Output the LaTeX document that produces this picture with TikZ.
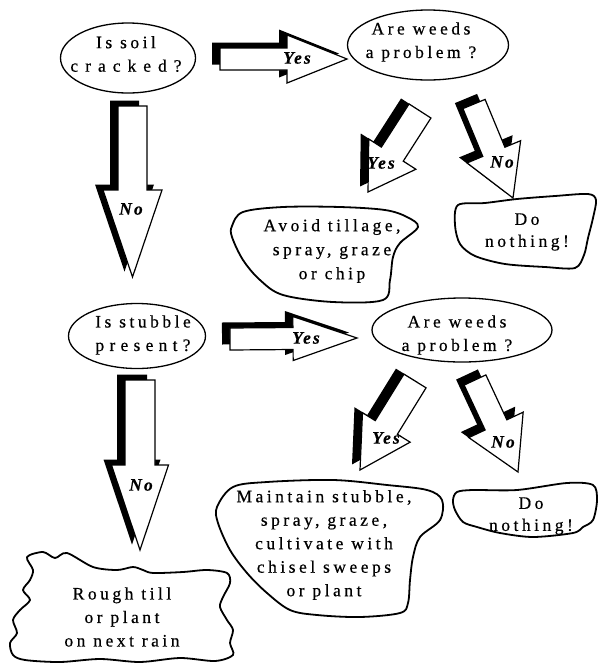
\documentclass[tikz,border=0pt]{standalone}
\usepackage{fontspec}
\setmainfont{Liberation Serif}[LetterSpace=20, FakeBold=0.5]
\newfontfamily\lblfont{Liberation Serif}[LetterSpace=12, FakeBold=0.4]
\usetikzlibrary{shapes.geometric,calc}

% hollow block arrow with a solid black offset shadow
% #1 start, #2 tip, #3 body half width, #4 head half width, #5 head length
\newcommand\blockarrow[5]{%
  \path (#1); \pgfgetlastxy{\bax}{\bay}%
  \path (#2); \pgfgetlastxy{\bbx}{\bby}%
  \pgfmathsetmacro\baang{atan2(\bby-\bay,\bbx-\bax)}%
  \pgfmathsetmacro\balen{veclen(\bbx-\bax,\bby-\bay)}%
  \pgfmathsetmacro\babase{\balen-#5}%
  \begin{scope}[shift={(#1)}, xshift=-8pt, yshift=5.5pt, rotate=\baang]
    \fill[black] (0pt,-#3pt) -- (\babase pt,-#3pt) -- (\babase pt,-#4pt) -- (\balen pt,0pt)
      -- (\babase pt,#4pt) -- (\babase pt,#3pt) -- (0pt,#3pt) -- cycle;
  \end{scope}
  \begin{scope}[shift={(#1)}, rotate=\baang]
    \draw[arrowline] (0pt,-#3pt) -- (\babase pt,-#3pt) -- (\babase pt,-#4pt) -- (\balen pt,0pt)
      -- (\babase pt,#4pt) -- (\babase pt,#3pt) -- (0pt,#3pt) -- cycle;
  \end{scope}}

\tikzset{
  qbox/.style={draw, ellipse, line width=1.3pt, inner sep=0pt},
  txt/.style={align=center, inner sep=0pt, font=\fontsize{17.5}{23.5}\selectfont},
  lbl/.style={inner sep=0pt, font=\lblfont\bfseries\itshape\fontsize{17.5}{17.5}\selectfont},
  cloud/.style={draw, line width=1.8pt, line join=round},
  arrowline/.style={draw=black, fill=white, line width=1.2pt, line join=miter},
}

\begin{document}
\begin{tikzpicture}[x=1pt, y=-1pt]
\useasboundingbox (0,0) rectangle (598,665);

% questions
\node[qbox, minimum width=135pt, minimum height=70pt] (q1) at (128,58) {};
\node[txt] (q1t) at (126,54) {Is soil\\\addfontfeature{LetterSpace=40}cracked?};
\node[qbox, minimum width=161pt, minimum height=70pt] (q2) at (428,45) {};
\node[txt] (q2t) at (421,42) {Are weeds\\a problem ?};
\node[qbox, minimum width=137pt, minimum height=65pt] (q3) at (137,336) {};
\node[txt] (q3t) at (143,335) {Is stubble\\\addfontfeature{LetterSpace=30}present?};
\node[qbox, minimum width=180pt, minimum height=64pt] (q4) at (462,330) {};
\node[txt] (q4t) at (457,335) {Are weeds\\a problem ?};

% answers
\draw[cloud] plot[smooth cycle, tension=0.55] coordinates {(243,212) (283,207) (340,207) (385,210) (407,217) (418,227) (400,243) (393,257) (390,280) (383,300) (333,302) (283,295) (260,280) (243,260) (232,237) (232,226)};
\node[txt, font=\fontsize{17.5}{24}\selectfont] (rA) at (332,251) {Avoid tillage,\\spray, graze\\or chip};

\draw[cloud] plot[smooth cycle, tension=0.5] coordinates {(458,205) (485,203) (517,199) (555,196) (588,194) (596,200) (593,218) (588,238) (584,255) (575,268) (545,267) (505,264) (475,256) (460,244) (455,225)};
\node[txt, font=\fontsize{17.5}{22}\selectfont] (rB) at (527,232) {Do\\nothing!};

\draw[cloud] plot[smooth cycle, tension=0.55] coordinates {(217,507) (233,487) (267,482) (333,480) (387,485) (427,490) (442,500) (440,520) (420,537) (413,557) (410,580) (408,603) (400,613) (360,617) (317,615) (290,610) (267,593) (247,573) (230,550) (218,523)};
\node[txt] (rC) at (324,545) {Maintain stubble,\\spray, graze,\\cultivate with\\chisel sweeps\\or plant};

\draw[cloud] plot[smooth cycle, tension=0.5] coordinates {(457,492) (473,490) (517,490) (567,483) (593,485) (597,500) (593,520) (583,527) (573,533) (533,537) (500,533) (477,527) (463,522) (455,510) (453,500)};
\node[txt, font=\fontsize{17.5}{22}\selectfont] (rE) at (531,516) {Do\\nothing!};

\draw[cloud] plot[smooth cycle, tension=0.5] coordinates {(27,557) (43,552) (55,558) (67,553) (93,567) (117,570) (133,567) (143,570) (153,573) (183,572) (207,570) (227,573) (230,583) (223,597) (220,607) (227,620) (233,630) (230,643) (233,655) (215,661) (180,658) (140,662) (100,659) (60,662) (25,660) (13,655) (10,643) (17,633) (13,620) (20,610) (30,600) (23,590) (30,580) (33,570)};
\node[txt] (rD) at (122,617) {Rough till\\or plant\\on next rain};

% arrow end points
\coordinate (a1s) at (220,59);   \coordinate (a1e) at (347,59);
\coordinate (a2s) at (132.5,106); \coordinate (a2e) at (132.5,277);
\coordinate (a3s) at (420,111);  \coordinate (a3e) at (368,192);
\coordinate (a4s) at (474,104);  \coordinate (a4e) at (513,198);
\coordinate (a5s) at (230,339);  \coordinate (a5e) at (357,338);
\coordinate (a6s) at (140,380);  \coordinate (a6e) at (140,550);
\coordinate (a7s) at (415,381);  \coordinate (a7e) at (360,470);
\coordinate (a8s) at (475,380);  \coordinate (a8e) at (518,472);

\blockarrow{a1s}{a1e}{11}{24}{60}
\blockarrow{a2s}{a2e}{14.5}{29.5}{87}
\blockarrow{a3s}{a3e}{13}{28}{45}
\blockarrow{a4s}{a4e}{12}{29}{50}
\blockarrow{a5s}{a5e}{11}{22}{64}
\blockarrow{a6s}{a6e}{15}{28.5}{85}
\blockarrow{a7s}{a7e}{13}{28}{50}
\blockarrow{a8s}{a8e}{12}{30}{52}

% arrow labels
\node[lbl] (l1) at (297,58) {Yes};
\node[lbl] (l2) at (131,209) {No};
\node[lbl] (l3) at (381,163) {Yes};
\node[lbl] (l4) at (502,162) {No};
\node[lbl] (l5) at (306,338) {Yes};
\node[lbl] (l6) at (141,485) {No};
\node[lbl] (l7) at (386,438) {Yes};
\node[lbl] (l8) at (503,442) {No};
\end{tikzpicture}
\end{document}
